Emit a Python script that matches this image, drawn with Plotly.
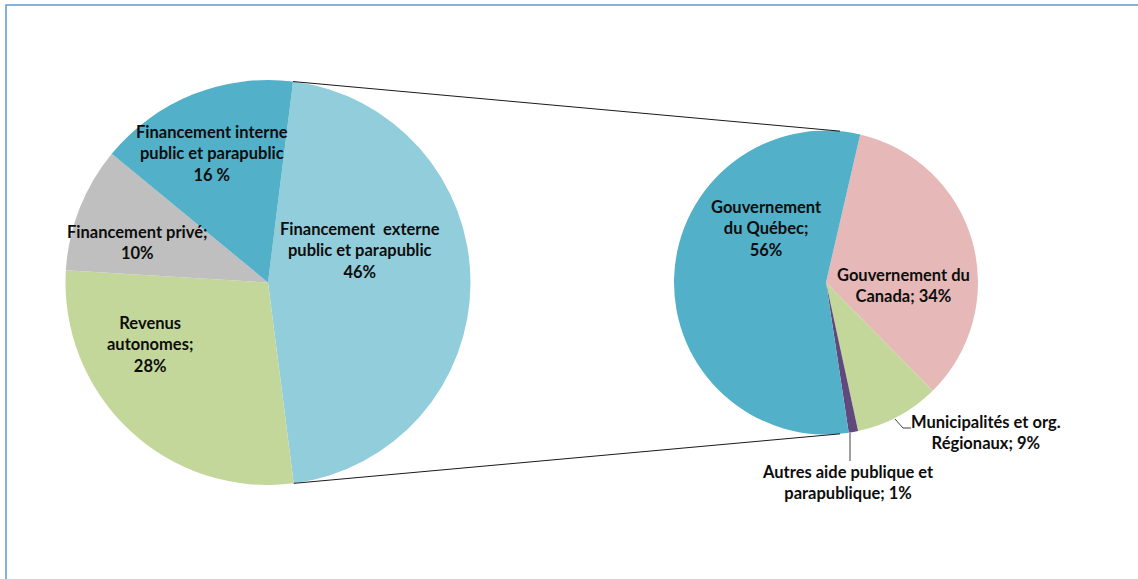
import math
import plotly.graph_objects as go

W, H = 1138, 579

# ---- data ----
main_labels = ["Financement  externe public et parapublic", "Revenus autonomes",
               "Financement privé", "Financement interne public et parapublic"]
main_values = [46, 28, 10, 16]
main_colors = ["#92CDDC", "#C4D79B", "#BFBFBF", "#52B0C8"]

sub_labels = ["Gouvernement du Canada", "Municipalités et org. Régionaux",
              "Autres aide publique et parapublique", "Gouvernement du Québec"]
sub_values = [34, 9, 1, 56]
sub_colors = ["#E6B9B8", "#C4D79B", "#604A7B", "#52B0C8"]

main_texts = ["Financement  externe<br>public et parapublic<br>46%",
              "Revenus<br>autonomes;<br>28%",
              "Financement privé;<br>10%",
              "Financement interne<br>public et parapublic<br>16 %"]
sub_texts = ["Gouvernement du<br>Canada; 34%",
             "Municipalités et org.<br>Régionaux; 9%",
             "Autres aide publique et<br>parapublique; 1%",
             "Gouvernement<br>du Québec;<br>56%"]

# ---- layout geometry (pixels) ----
L_cx, L_cy, L_r, L_rot = 268, 282.5, 202.5, 7.1
R_cx, R_cy, R_r, R_rot = 826, 282.5, 152, 13.0

main_text_pos = [(359.5, 250), (150, 344), (137.5, 242), (212, 153)]
sub_text_pos = [(903, 285), (985.5, 432), (848, 482), (766.5, 228)]


def px(x):
    return x / W


def py(y):
    return 1 - y / H


def pt(cx, cy, r, ang):
    a = math.radians(ang)
    return cx + r * math.sin(a), cy - r * math.cos(a)


fig = go.Figure()
fig.add_trace(go.Pie(
    labels=main_labels, values=main_values, sort=False, direction="clockwise",
    rotation=L_rot, textinfo="none", hoverinfo="label+percent",
    marker=dict(colors=main_colors, line=dict(width=0)),
    domain=dict(x=[px(L_cx - L_r), px(L_cx + L_r)], y=[py(L_cy + L_r), py(L_cy - L_r)]),
    showlegend=False,
))
fig.add_trace(go.Pie(
    labels=sub_labels, values=sub_values, sort=False, direction="clockwise",
    rotation=R_rot, textinfo="none", hoverinfo="label+percent",
    marker=dict(colors=sub_colors, line=dict(width=0)),
    domain=dict(x=[px(R_cx - R_r), px(R_cx + R_r)], y=[py(R_cy + R_r), py(R_cy - R_r)]),
    showlegend=False,
))

font = dict(family="Lato", size=16.5, color="#0D0D0D")
annotations = []
for t, (x, y) in list(zip(main_texts, main_text_pos)) + list(zip(sub_texts, sub_text_pos)):
    annotations.append(dict(text="<b>" + t + "</b>", x=px(x), y=py(y), xref="paper", yref="paper",
                            showarrow=False, xanchor="center", yanchor="middle", align="center",
                            font=font))

shapes = []
# frame
shapes.append(dict(type="rect", xref="paper", yref="paper", x0=px(6), y0=py(5), x1=px(W + 20), y1=py(H + 20),
                   line=dict(color="#5B9BD5", width=1.5), fillcolor="rgba(0,0,0,0)"))
# connectors: from the boundary of the external slice to the top/bottom of the second pie
ext_start = L_rot
ext_end = L_rot + 360 * main_values[0] / sum(main_values)
a0 = pt(L_cx, L_cy, L_r, ext_start)
a1 = pt(L_cx, L_cy, L_r, ext_end)
b0 = pt(R_cx, R_cy, R_r, 5.3)
b1 = pt(R_cx, R_cy, R_r, 174.7)
for (xa, ya), (xb, yb) in [(a0, b0), (a1, b1)]:
    shapes.append(dict(type="line", xref="paper", yref="paper", x0=px(xa), y0=py(ya), x1=px(xb), y1=py(yb),
                       line=dict(color="#1a1a1a", width=1)))
# leader lines for small slices
shapes.append(dict(type="path", xref="paper", yref="paper",
                   path=f"M {px(895)},{py(419)} L {px(903)},{py(428)} L {px(911)},{py(428)}",
                   line=dict(color="#404040", width=1)))
shapes.append(dict(type="line", xref="paper", yref="paper", x0=px(850), y0=py(433), x1=px(850), y1=py(461),
                   line=dict(color="#404040", width=1)))

fig.update_layout(width=W, height=H, margin=dict(l=0, r=0, t=0, b=0),
                  paper_bgcolor="white", plot_bgcolor="white",
                  annotations=annotations, shapes=shapes)

fig.write_html("out.html", config={"displayModeBar": False},
               post_script="document.body.style.margin='0';")
